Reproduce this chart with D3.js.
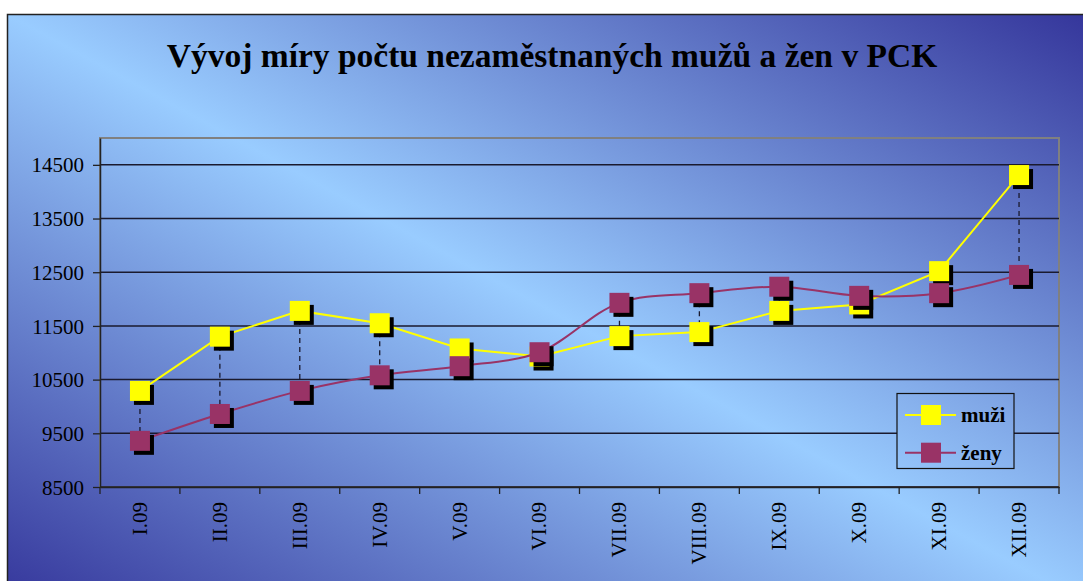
<!DOCTYPE html>
<html>
<head>
<meta charset="utf-8">
<script src="https://cdn.jsdelivr.net/npm/d3@7"></script>
<style>
  body { margin: 0; background: #fff; }
  text { font-family: "Liberation Serif", "Times New Roman", serif; }
</style>
</head>
<body>
<div id="chart"></div>
<script>
const months = ["I.09", "II.09", "III.09", "IV.09", "V.09", "VI.09", "VII.09", "VIII.09", "IX.09", "X.09", "XI.09", "XII.09"];
const muzi = [10290, 11300, 11780, 11550, 11080, 10930, 11310, 11385, 11780, 11900, 12520, 14310];
const zeny = [9360, 9860, 10290, 10580, 10750, 11010, 11930, 12110, 12230, 12060, 12110, 12450];
const yTicks = [8500, 9500, 10500, 11500, 12500, 13500, 14500];

const width = 1083, height = 581;
const plot = { left: 100, right: 1059, top: 138, bottom: 487 };

const svg = d3.select("#chart").append("svg")
  .attr("width", width)
  .attr("height", height);

// background gradient, shared in user space so the legend box blends in
const bg = { x: 7.5, y: 14.5, w: 1100, h: 600 };
const defs = svg.append("defs");
const grad = defs.append("linearGradient")
  .attr("id", "bg")
  .attr("gradientUnits", "userSpaceOnUse")
  .attr("gradientTransform", `matrix(${bg.w},0,0,${bg.h},${bg.x},${bg.y})`)
  .attr("x1", 1).attr("y1", 0).attr("x2", 0).attr("y2", 1);
grad.append("stop").attr("offset", 0).attr("stop-color", "#333399");
grad.append("stop").attr("offset", 0.5).attr("stop-color", "#99ccff");
grad.append("stop").attr("offset", 1).attr("stop-color", "#333399");

svg.append("rect")
  .attr("x", bg.x).attr("y", bg.y)
  .attr("width", bg.w).attr("height", bg.h)
  .attr("fill", "url(#bg)")
  .attr("stroke", "#222")
  .attr("stroke-width", 1.5);

// title
svg.append("text")
  .attr("x", 552)
  .attr("y", 67)
  .attr("text-anchor", "middle")
  .attr("font-size", 33.5)
  .attr("font-weight", "bold")
  .text("Vývoj míry počtu nezaměstnaných mužů a žen v PCK");

const x = d3.scaleBand()
  .domain(months)
  .range([plot.left, plot.right]);

const y = d3.scaleLinear()
  .domain([8500, 15000])
  .range([plot.bottom, plot.top]);

// plot area border
svg.append("rect")
  .attr("x", plot.left).attr("y", plot.top)
  .attr("width", plot.right - plot.left)
  .attr("height", plot.bottom - plot.top)
  .attr("fill", "none")
  .attr("stroke", "#808080")
  .attr("stroke-width", 2);

// gridlines
svg.append("g")
  .selectAll("line")
  .data(yTicks)
  .join("line")
  .attr("x1", plot.left).attr("x2", plot.right)
  .attr("y1", d => y(d)).attr("y2", d => y(d))
  .attr("stroke", "#1a1a2e")
  .attr("stroke-width", 1.5);

// y axis
const yAxis = svg.append("g")
  .attr("transform", `translate(${plot.left},0)`)
  .attr("font-family", "Liberation Serif, serif")
  .call(d3.axisLeft(y).tickValues(yTicks).tickFormat(d => d).tickSize(7).tickSizeOuter(0));
yAxis.select(".domain").attr("stroke", "#222").attr("stroke-width", 1.5);
yAxis.selectAll(".tick line").attr("stroke", "#222").attr("stroke-width", 1.3);
yAxis.selectAll(".tick text")
  .attr("font-size", 21)
  .attr("fill", "#000")
  .attr("x", -16)
  .attr("dy", "0.34em");

// x axis
const xAxis = svg.append("g")
  .attr("transform", `translate(0,${plot.bottom})`)
  .attr("font-family", "Liberation Serif, serif")
  .call(d3.axisBottom(x).tickSize(0).tickSizeOuter(0));
xAxis.select(".domain").attr("stroke", "#222").attr("stroke-width", 1.5);
xAxis.selectAll(".tick text")
  .attr("font-size", 21)
  .attr("fill", "#000")
  .attr("text-anchor", "end")
  .attr("transform", "translate(0,15) rotate(-90)")
  .attr("x", 0)
  .attr("y", 0)
  .attr("dy", "0.33em");

// tick marks at category boundaries
svg.append("g")
  .selectAll("line")
  .data(months.map(m => x(m)).concat([x(months[months.length - 1]) + x.bandwidth()]))
  .join("line")
  .attr("x1", d => d).attr("x2", d => d)
  .attr("y1", plot.bottom).attr("y2", plot.bottom + 7)
  .attr("stroke", "#222")
  .attr("stroke-width", 1.3);

const cx = m => x(m) + x.bandwidth() / 2;

// high-low dashed lines
svg.append("g")
  .selectAll("line")
  .data(months)
  .join("line")
  .attr("x1", d => cx(d)).attr("x2", d => cx(d))
  .attr("y1", (d, i) => y(Math.max(muzi[i], zeny[i])))
  .attr("y2", (d, i) => y(Math.min(muzi[i], zeny[i])))
  .attr("stroke", "#1a1a2e")
  .attr("stroke-width", 1.3)
  .attr("stroke-dasharray", "5,4");

const series = [
  { name: "muži", values: muzi, color: "#ffff00", curve: d3.curveLinear },
  { name: "ženy", values: zeny, color: "#993366", curve: d3.curveCatmullRom.alpha(0.5) }
];

const size = 20, shadow = 4;

series.forEach(s => {
  const line = d3.line()
    .x((d, i) => cx(months[i]))
    .y(d => y(d))
    .curve(s.curve);

  const g = svg.append("g");
  g.append("path")
    .attr("d", line(s.values))
    .attr("fill", "none")
    .attr("stroke", s.color)
    .attr("stroke-width", 2);

  g.selectAll(".shadow")
    .data(s.values)
    .join("rect")
    .attr("class", "shadow")
    .attr("x", (d, i) => cx(months[i]) - size / 2 + shadow)
    .attr("y", d => y(d) - size / 2 + shadow)
    .attr("width", size).attr("height", size)
    .attr("fill", "#000");

  g.selectAll(".marker")
    .data(s.values)
    .join("rect")
    .attr("class", "marker")
    .attr("x", (d, i) => cx(months[i]) - size / 2)
    .attr("y", d => y(d) - size / 2)
    .attr("width", size).attr("height", size)
    .attr("fill", s.color);
});

// legend
const legend = svg.append("g");
legend.append("rect")
  .attr("x", 897).attr("y", 393.5)
  .attr("width", 117).attr("height", 75)
  .attr("fill", "url(#bg)")
  .attr("stroke", "#111")
  .attr("stroke-width", 1.2);

series.forEach((s, i) => {
  const ly = 415 + i * 37.7;
  legend.append("line")
    .attr("x1", 905).attr("x2", 956)
    .attr("y1", ly).attr("y2", ly)
    .attr("stroke", s.color)
    .attr("stroke-width", 2);
  legend.append("rect")
    .attr("x", 931 - size / 2).attr("y", ly - size / 2)
    .attr("width", size).attr("height", size)
    .attr("fill", s.color);
  legend.append("text")
    .attr("x", 961).attr("y", ly)
    .attr("dy", "0.33em")
    .attr("font-size", 21)
    .attr("font-weight", "bold")
    .text(s.name);
});
</script>
</body>
</html>
